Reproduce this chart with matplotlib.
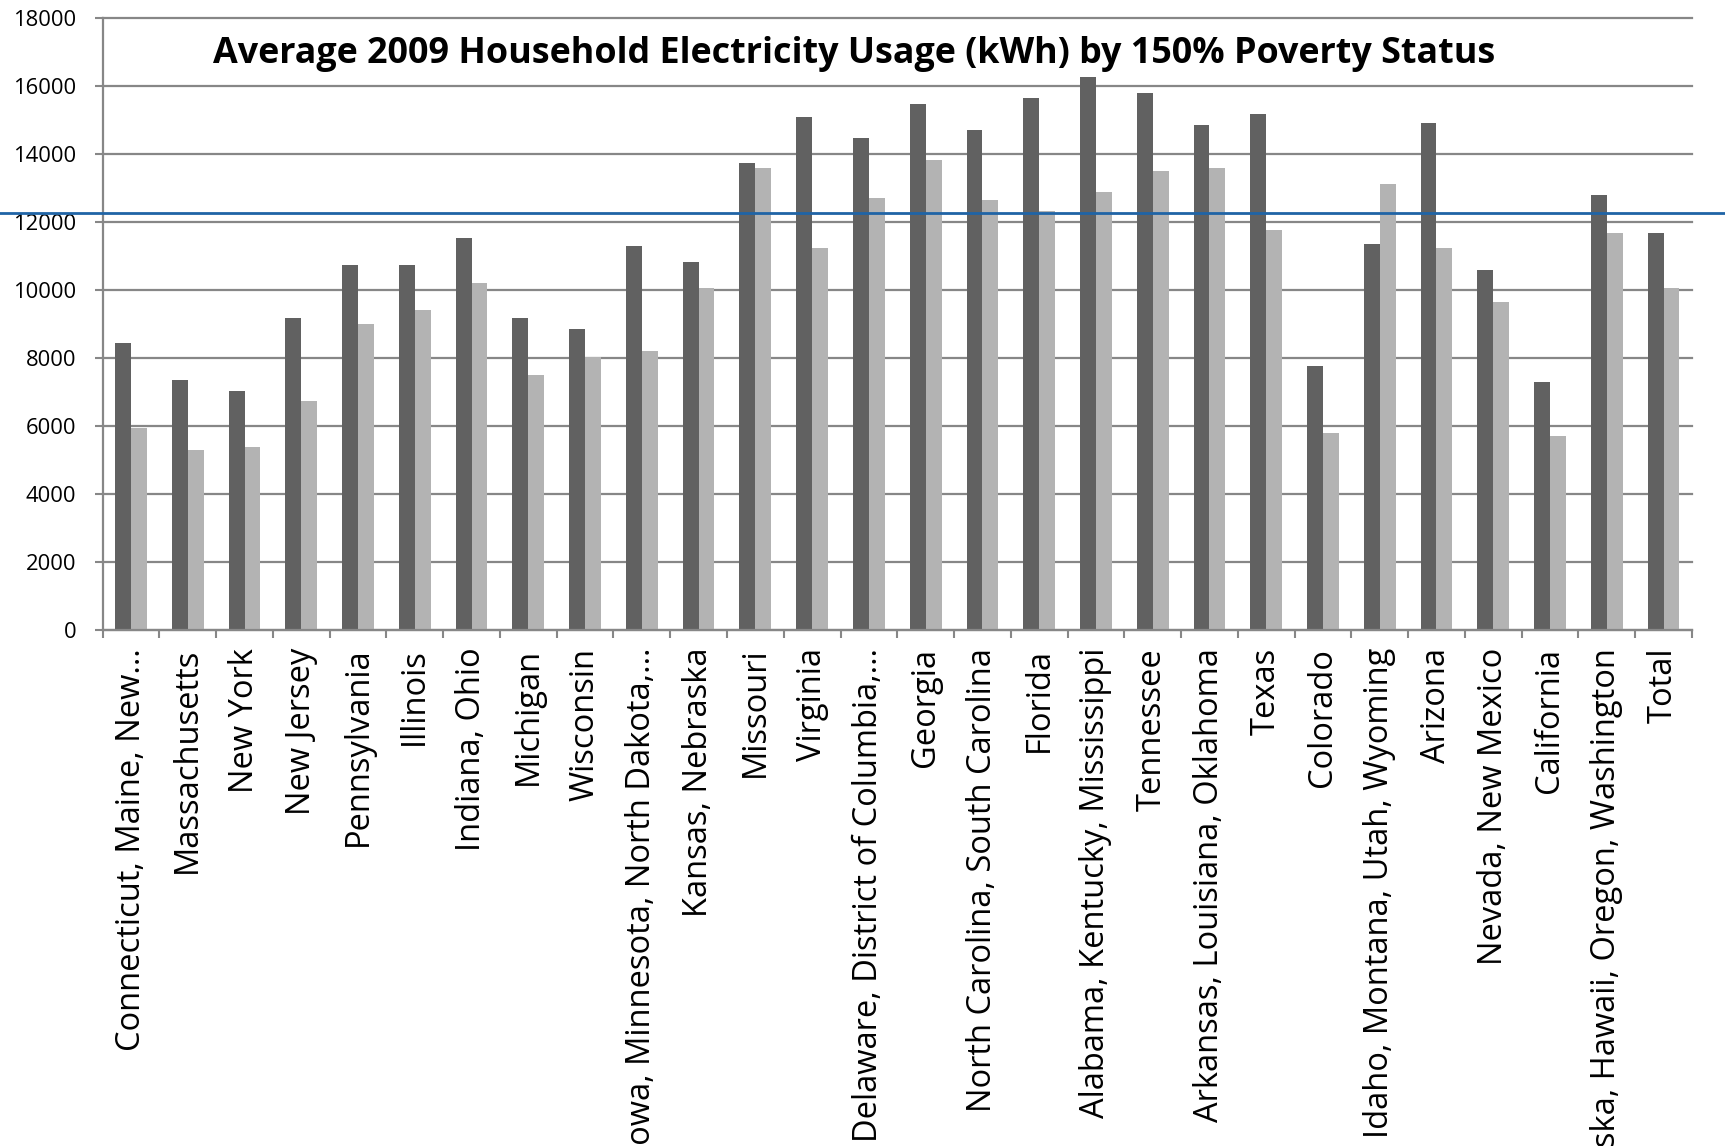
import numpy as np
import matplotlib
matplotlib.use("Agg")
import matplotlib.pyplot as plt
from matplotlib.lines import Line2D
from matplotlib.transforms import blended_transform_factory

plt.rcParams['font.family'] = ['Open Sans', 'DejaVu Sans']

regions = ["Connecticut, Maine, New…", "Massachusetts", "New York", "New Jersey",
           "Pennsylvania", "Illinois", "Indiana, Ohio", "Michigan", "Wisconsin",
           "Iowa, Minnesota, North Dakota,…", "Kansas, Nebraska", "Missouri",
           "Virginia", "Delaware, District of Columbia,…", "Georgia",
           "North Carolina, South Carolina", "Florida",
           "Alabama, Kentucky, Mississippi", "Tennessee",
           "Arkansas, Louisiana, Oklahoma", "Texas", "Colorado",
           "Idaho, Montana, Utah, Wyoming", "Arizona", "Nevada, New Mexico",
           "California", "Alaska, Hawaii, Oregon, Washington", "Total"]

# dark bars (first series) and light bars (second series), kWh
usage_dark = [8450, 7360, 7040, 9170, 10750, 10750, 11520, 9170, 8860,
              11300, 10820, 13750, 15090, 14470, 15480, 14700, 15640,
              16270, 15800, 14850, 15170, 7750, 11370, 14930, 10590,
              7280, 12810, 11690]
usage_light = [5940, 5300, 5390, 6720, 9010, 9410, 10200, 7510, 8020,
               8220, 10050, 13600, 11230, 12720, 13830, 12650, 12320,
               12880, 13520, 13600, 11780, 5780, 13120, 11230, 9640,
               5710, 11690, 10050]

ref_level = 12260
yticks = list(range(0, 18001, 2000))

fig = plt.figure(figsize=(17.25, 11.46), dpi=100)
ax = fig.add_axes([0.0595, 0.4505, 0.9213, 0.5335])

x = np.arange(len(regions)) + 0.5
w = 0.28
ax.bar(x - w / 2, usage_dark, width=w, color="#616161", zorder=3)
ax.bar(x + w / 2, usage_light, width=w, color="#b3b3b3", zorder=3)

ax.set_xlim(0, len(regions))
ax.set_ylim(0, 18000)
ax.set_yticks(yticks)
ax.set_yticklabels([str(v) for v in yticks], fontsize=15.8)

# ticks at category borders, labels at centres
ax.set_xticks(np.arange(len(regions) + 1))
ax.set_xticklabels([])
ax.set_xticks(x, minor=True)
ax.set_xticklabels(regions, minor=True, rotation=90, fontsize=23.5,
                   va="top", ha="center")
ax.tick_params(axis="x", which="minor", length=0, pad=13)
ax.tick_params(axis="x", which="major", length=6, width=1.5, color="#878787")
ax.tick_params(axis="y", length=6, width=1.5, color="#878787", pad=13)

ax.yaxis.grid(True, color="#878787", linewidth=1.6, zorder=0)
for gl in ax.get_ygridlines():
    gl.set_clip_on(False)

for side in ["top", "right"]:
    ax.spines[side].set_visible(False)
for side in ["left", "bottom"]:
    ax.spines[side].set_color("#878787")
    ax.spines[side].set_linewidth(1.6)
ax.spines["bottom"].set_zorder(4)

# reference line across the whole figure
trans = blended_transform_factory(fig.transFigure, ax.transData)
fig.add_artist(Line2D([0, 1], [ref_level, ref_level], transform=trans,
                      color="#1f64a6", linewidth=2))

fig.text(0.495, 0.953, "Average 2009 Household Electricity Usage (kWh) by 150% Poverty Status",
         ha="center", va="center", fontsize=25.8, fontweight="bold")

fig.savefig("out.png", dpi=100)
